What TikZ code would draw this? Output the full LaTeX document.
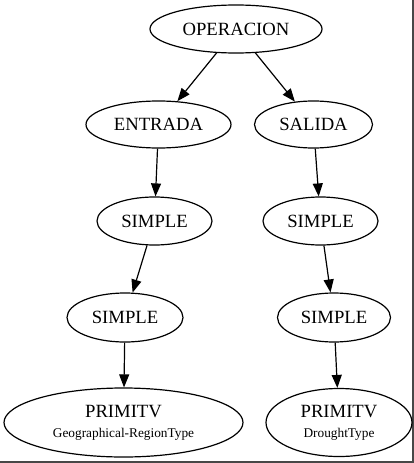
\documentclass[tikz,border=0pt]{standalone}
\usepackage{fontspec}
\setmainfont{Liberation Serif}
\usetikzlibrary{shapes.geometric,arrows.meta}
\begin{document}
\begin{tikzpicture}[x=1pt,y=-1pt,
  nd/.style={draw,ellipse,line width=1.2pt,inner sep=0pt,
    font=\fontsize{18.67}{20}\selectfont},
  prim/.style={nd,align=center,font=\fontsize{13.33}{20}\selectfont},
  ed/.style={line width=1.2pt,-{Triangle[length=13pt,width=10pt]}}]
\useasboundingbox (0,0) rectangle (414,463);
\draw[line width=1.5pt,color=black!72] (413.2,0) -- (413.2,461.8) -- (0,461.8);
\node[nd,minimum width=172pt,minimum height=48pt] (op) at (236,29) {OPERACION};
\node[nd,minimum width=145pt,minimum height=47pt] (en) at (158.5,124.5) {ENTRADA};
\node[nd,minimum width=118pt,minimum height=47pt] (sa) at (313.5,124.5) {SALIDA};
\node[nd,minimum width=115pt,minimum height=48pt] (s1) at (154.5,221) {SIMPLE};
\node[nd,minimum width=115pt,minimum height=48pt] (s2) at (320.5,221) {SIMPLE};
\node[nd,minimum width=116pt,minimum height=49pt] (s3) at (125,317.5) {SIMPLE};
\node[nd,minimum width=113pt,minimum height=49pt] (s4) at (334,317.5) {SIMPLE};
\node[prim,minimum width=239pt,minimum height=69pt] (p1) at (123.5,422.5)
  {{\fontsize{18.67}{20}\selectfont PRIMITV}\\Geographical-RegionType};
\node[prim,minimum width=146pt,minimum height=68pt] (p2) at (339,422.5)
  {{\fontsize{18.67}{20}\selectfont PRIMITV}\\DroughtType};
\draw[ed] (op) -- (en);
\draw[ed] (op) -- (sa);
\draw[ed] (en) -- (s1);
\draw[ed] (sa) -- (s2);
\draw[ed] (s1) -- (s3);
\draw[ed] (s2) -- (s4);
\draw[ed] (s3) -- (p1);
\draw[ed] (s4) -- (p2);
\end{tikzpicture}
\end{document}
